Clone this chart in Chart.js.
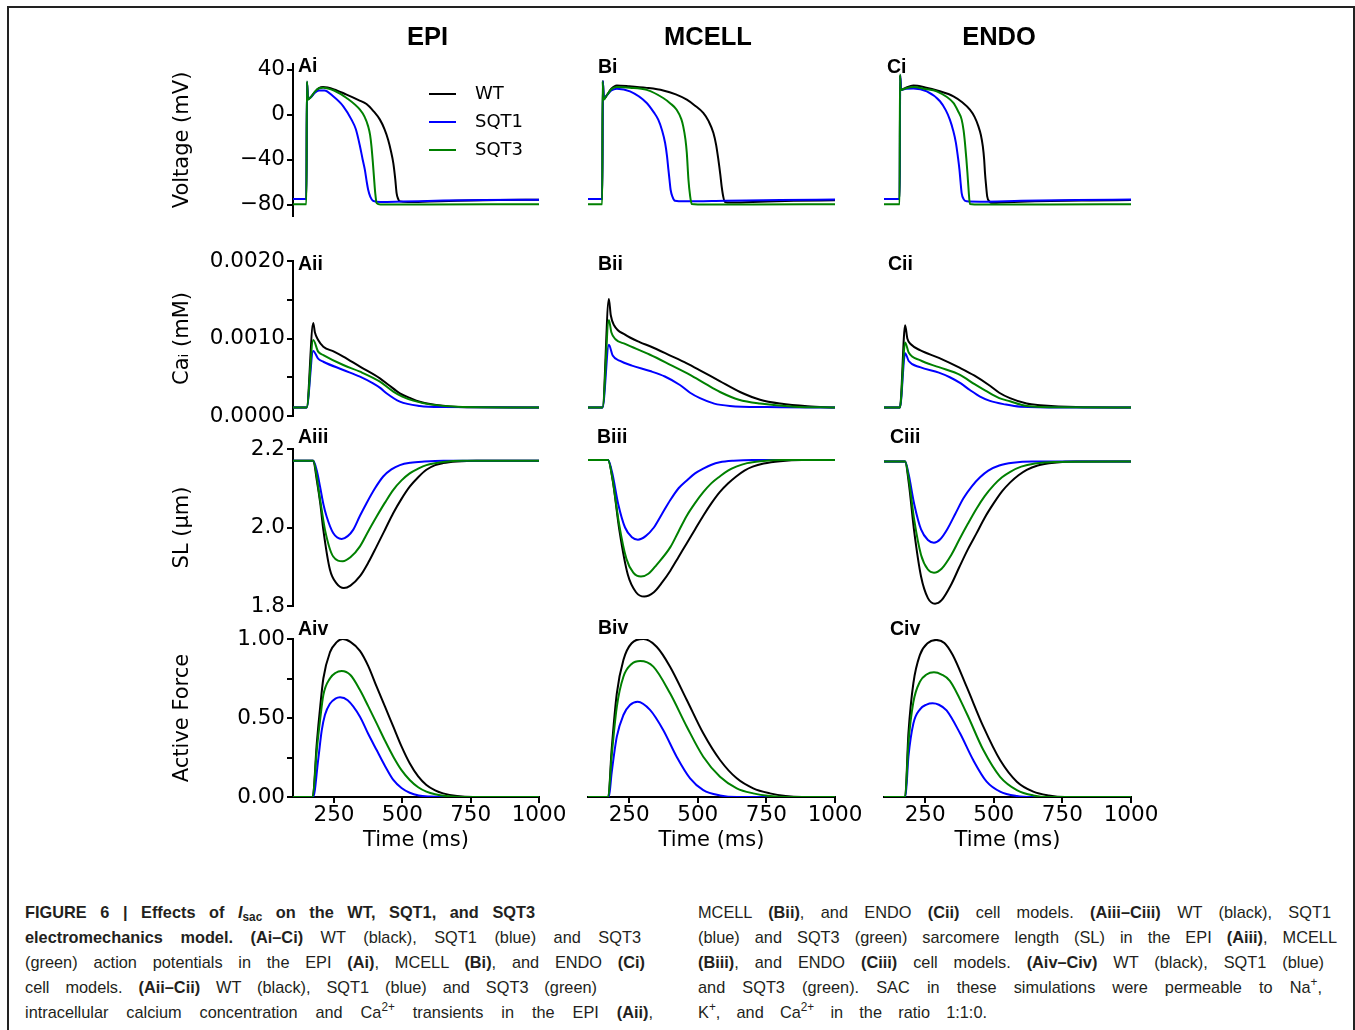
<!DOCTYPE html>
<html>
<head>
<meta charset="utf-8">
<title>Effects of Isac on WT, SQT1 and SQT3 electromechanics</title>
<script src="https://cdn.jsdelivr.net/npm/chart.js@4.4.1/dist/chart.umd.min.js"></script>
<style>
  html, body { margin: 0; padding: 0; background: #fff; }
  body { width: 1355px; height: 1030px; position: relative; overflow: hidden; }
  #frame { position: absolute; left: 7px; top: 6px; width: 1344px; height: 1100px; border: 2px solid #222; }
  #figure canvas { position: absolute; }
  .coltitle { position: absolute; width: 200px; text-align: center; font: bold 25.5px "Liberation Sans", Arial, sans-serif; line-height: 1; color: #000; white-space: nowrap; }
  .plabel { position: absolute; font: bold 19.5px "Liberation Sans", Arial, sans-serif; line-height: 1; color: #000; white-space: nowrap; }
  .cap { position: absolute; height: 25px; line-height: 25px; font-family: "Liberation Sans", Arial, sans-serif; font-size: 17px; color: #231f20; white-space: nowrap; }
  .cap > span { display: inline-block; white-space: nowrap; transform-origin: 0 50%; }
  .cap sup, .cap sub { font-size: 0.72em; line-height: 0; }
  .cap sup { vertical-align: 0.55em; }
  .cap sub { vertical-align: -0.25em; }
</style>
</head>
<body>
<div id="frame"></div>
<div id="figure"></div>

<div class="coltitle" style="left:327.5px; top:23.5px;">EPI</div>
<div class="coltitle" style="left:608px; top:23.5px;">MCELL</div>
<div class="coltitle" style="left:899px; top:23.5px;">ENDO</div>

<div class="plabel" style="left:298px; top:56px;">Ai</div>
<div class="plabel" style="left:598px; top:57px;">Bi</div>
<div class="plabel" style="left:887px; top:57px;">Ci</div>
<div class="plabel" style="left:298px; top:253.5px;">Aii</div>
<div class="plabel" style="left:598px; top:253.5px;">Bii</div>
<div class="plabel" style="left:888px; top:253.5px;">Cii</div>
<div class="plabel" style="left:298px; top:427px;">Aiii</div>
<div class="plabel" style="left:597px; top:427px;">Biii</div>
<div class="plabel" style="left:890px; top:427px;">Ciii</div>
<div class="plabel" style="left:298px; top:618.5px;">Aiv</div>
<div class="plabel" style="left:598px; top:617.5px;">Biv</div>
<div class="plabel" style="left:890px; top:618.5px;">Civ</div>

<!-- figure caption, two justified columns -->
<div class="cap" data-w="510" style="left:25px; top:900px;"><span><b>FIGURE 6 | Effects of <i>I</i><sub>sac</sub> on the WT, SQT1, and SQT3</b></span></div>
<div class="cap" data-w="616" style="left:25px; top:925px;"><span><b>electromechanics model. (Ai–Ci)</b> WT (black), SQT1 (blue) and SQT3</span></div>
<div class="cap" data-w="620" style="left:25px; top:950px;"><span>(green) action potentials in the EPI <b>(Ai)</b>, MCELL <b>(Bi)</b>, and ENDO <b>(Ci)</b></span></div>
<div class="cap" data-w="572" style="left:25px; top:975px;"><span>cell models. <b>(Aii–Cii)</b> WT (black), SQT1 (blue) and SQT3 (green)</span></div>
<div class="cap" data-w="628" style="left:25px; top:1000px;"><span>intracellular calcium concentration and Ca<sup>2+</sup> transients in the EPI <b>(Aii)</b>,</span></div>

<div class="cap" data-w="633" style="left:698px; top:900px;"><span>MCELL <b>(Bii)</b>, and ENDO <b>(Cii)</b> cell models. <b>(Aiii–Ciii)</b> WT (black), SQT1</span></div>
<div class="cap" data-w="639" style="left:698px; top:925px;"><span>(blue) and SQT3 (green) sarcomere length (SL) in the EPI <b>(Aiii)</b>, MCELL</span></div>
<div class="cap" data-w="626" style="left:698px; top:950px;"><span><b>(Biii)</b>, and ENDO <b>(Ciii)</b> cell models. <b>(Aiv–Civ)</b> WT (black), SQT1 (blue)</span></div>
<div class="cap" data-w="624" style="left:698px; top:975px;"><span>and SQT3 (green). SAC in these simulations were permeable to Na<sup>+</sup>,</span></div>
<div class="cap" data-w="289" style="left:698px; top:1000px;"><span>K<sup>+</sup>, and Ca<sup>2+</sup> in the ratio 1:1:0.</span></div>

<script>
// ---------- axes: ranges, ticks and tick labels ----------
const timeRange = [100, 1000];
const timeTicks = [250, 500, 750, 1000];
const timeTickLabels = ['250', '500', '750', '1000'];

const voltRange = [-90, 45];
const voltTicks = [-80, -40, 0, 40];
const voltTickLabels = ['\u221280', '\u221240', '0', '40'];

const caRange = [0, 0.002];
const caTicks = [0, 0.0005, 0.001, 0.0015, 0.002];
const caTickLabels = ['0.0000', '', '0.0010', '', '0.0020'];

const slRange = [1.8, 2.2];
const slTicks = [1.8, 2.0, 2.2];
const slTickLabels = ['1.8', '2.0', '2.2'];

const forceRange = [0, 1];
const forceTicks = [0, 0.25, 0.5, 0.75, 1];
const forceTickLabels = ['0.00', '', '0.50', '', '1.00'];

const seriesNames = ['WT', 'SQT1', 'SQT3'];

// ---------- membrane voltage (mV), [time ms, value] ----------
const epiV_WT = [[100,-75],[149,-75],[151,29],[155,14],[165,15.5],[180,20],[195,23.5],[210,24.5],[250,22.5],[296,17.8],[340,13],[369,9.5],[395,3],[418,-4.4],[435,-13],[448,-22.2],[458,-32],[467,-43],[474,-57],[479,-69.6],[485,-75],[491,-77],[520,-77.6],[600,-77.1],[700,-76.4],[850,-75.8],[1000,-75.5]];
const epiV_SQT1 = [[100,-75],[149,-75],[151,29],[155,14],[165,15.5],[180,19.5],[195,21.5],[215,21.5],[247,16.3],[284,7.4],[314,-4.4],[330,-13],[345,-28],[355,-40],[363,-49],[370,-60],[375,-66.7],[383,-73],[393,-76.5],[420,-77.6],[500,-77.2],[650,-76.3],[800,-75.8],[1000,-75.5]];
const epiV_SQT3 = [[100,-79.5],[149,-79.5],[151,29.6],[155,13.3],[165,15.5],[180,20.5],[195,23.5],[210,24],[250,21.5],[296,14.8],[345,4.4],[362,-2],[375,-10.4],[382,-18],[387,-28],[392,-42],[396,-54.8],[401,-70],[406,-78.5],[420,-79.8],[600,-79.7],[1000,-79.5]];

const mcV_WT = [[100,-75],[152,-75],[154,30],[158,14],[168,17],[185,23],[205,26],[250,25.3],[314,23.8],[374,21.5],[420,18],[460,13.3],[490,8],[520,1.5],[540,-6],[557,-16.3],[567,-27],[575,-40],[582,-53],[587,-63.7],[593,-73],[599,-77.5],[620,-78],[700,-77.5],[850,-76.5],[1000,-76]];
const mcV_SQT1 = [[100,-75],[152,-75],[154,30],[158,14],[168,17],[185,21.5],[205,23],[253,20.7],[314,10.4],[340,2],[356,-4.4],[370,-14],[381,-25.2],[388,-37],[393,-48.9],[397,-58],[401,-66.7],[408,-73],[417,-76.5],[450,-77],[600,-76.5],[800,-75.8],[1000,-75.3]];
const mcV_SQT3 = [[100,-79.5],[152,-79.5],[153,29.6],[157,13.3],[168,17],[185,22.5],[205,24.5],[253,24],[314,22],[374,14.8],[400,10],[423,4.4],[440,-4],[447,-10.4],[455,-22],[460,-34],[466,-57.8],[472,-72],[478,-79.4],[500,-79.8],[700,-79.7],[1000,-79.5]];

const enV_WT = [[100,-75],[157,-75],[159,35],[162,22],[180,24],[207,25.8],[250,24.2],[300,21],[353,16.3],[385,11],[413,4.4],[430,-2],[444,-10.4],[453,-18],[460,-28],[465,-40],[468,-51.8],[472,-63],[476,-72.6],[484,-77],[492,-78.3],[520,-78],[650,-77],[850,-76.2],[1000,-75.8]];
const enV_SQT1 = [[100,-75],[157,-75],[159,35],[162,22],[180,23],[207,23.3],[256,20.7],[304,11.9],[325,4],[340,-4.4],[352,-14],[362,-25],[369,-37],[375,-49],[379,-60],[383,-69.6],[390,-75],[401,-77],[450,-77.3],[600,-76.5],[800,-75.8],[1000,-75.3]];
const enV_SQT3 = [[100,-79.5],[157,-79.5],[158,35.6],[161,22],[180,23.5],[207,24.5],[250,22.8],[292,20.7],[353,10.4],[370,3],[383,-4.4],[390,-14],[395,-25],[400,-39],[404,-51.8],[408,-66],[413,-79.4],[430,-79.8],[700,-79.7],[1000,-79.5]];

// ---------- intracellular calcium (mM) ----------
const epiCa_WT = [[100,0.00011],[150,0.00011],[174,0.00120],[180,0.00108],[192,0.00098],[211,0.000895],[250,0.00083],[284,0.000766],[345,0.000637],[418,0.000486],[450,0.0004],[491,0.000293],[530,0.00023],[564,0.000185],[649,0.000133],[771,0.000112],[1000,0.00011]];
const epiCa_SQT1 = [[100,0.00011],[150,0.00011],[174,0.00084],[192,0.00074],[211,0.0007],[284,0.000594],[345,0.000508],[393,0.000421],[420,0.00036],[442,0.000293],[491,0.000185],[564,0.000129],[650,0.000115],[1000,0.00011]];
const epiCa_SQT3 = [[100,0.00011],[150,0.00011],[174,0.00098],[192,0.00083],[211,0.000787],[284,0.000658],[345,0.000572],[418,0.000443],[467,0.000314],[500,0.00025],[540,0.000198],[600,0.00015],[700,0.00012],[1000,0.00011]];

const mcCa_WT = [[100,0.00011],[153,0.00011],[176,0.00151],[183,0.0013],[195,0.00117],[235,0.00105],[290,0.00095],[326,0.0009],[400,0.00078],[460,0.00068],[508,0.00059],[580,0.00045],[654,0.00031],[727,0.00021],[800,0.00016],[900,0.000125],[1000,0.00011]];
const mcCa_SQT1 = [[100,0.00011],[153,0.00011],[176,0.00092],[190,0.00078],[217,0.00071],[260,0.00065],[326,0.00058],[380,0.00051],[435,0.0004],[472,0.0003],[508,0.00023],[560,0.00016],[617,0.00013],[750,0.000115],[1000,0.00011]];
const mcCa_SQT3 = [[100,0.00011],[153,0.00011],[176,0.00124],[185,0.00108],[200,0.00099],[235,0.00093],[326,0.00079],[400,0.00066],[472,0.00053],[530,0.00041],[581,0.00031],[650,0.00021],[727,0.00016],[850,0.00012],[1000,0.00011]];

const enCa_WT = [[100,0.00011],[158,0.00011],[177,0.00117],[185,0.001],[200,0.00092],[231,0.00085],[300,0.00075],[377,0.00062],[430,0.00052],[486,0.00039],[520,0.0003],[559,0.00023],[620,0.00016],[669,0.00014],[800,0.000115],[1000,0.00011]];
const enCa_SQT1 = [[100,0.00011],[158,0.00011],[177,0.00081],[190,0.00071],[231,0.00063],[300,0.00056],[340,0.0005],[380,0.00042],[413,0.000335],[450,0.00025],[486,0.000195],[540,0.00015],[596,0.00012],[750,0.00011],[1000,0.00011]];
const enCa_SQT3 = [[100,0.00011],[158,0.00011],[177,0.00095],[190,0.00082],[231,0.00072],[300,0.00063],[377,0.00053],[430,0.00041],[468,0.00033],[520,0.00023],[559,0.00019],[620,0.00013],[750,0.000112],[1000,0.00011]];

// ---------- sarcomere length (um) ----------
const epiSL_WT = [[100,2.17],[174,2.17],[187,2.121],[200,2.06],[211,1.994],[235,1.893],[260,1.857],[286,1.846],[310,1.852],[345,1.876],[375,1.91],[406,1.952],[437,1.995],[467,2.037],[497,2.073],[527,2.104],[558,2.128],[588,2.147],[620,2.159],[649,2.164],[700,2.168],[770,2.17],[1000,2.17]];
const epiSL_SQT1 = [[100,2.17],[174,2.17],[187,2.145],[199,2.104],[211,2.06],[223,2.028],[247,1.986],[278,1.971],[300,1.978],[320,1.994],[345,2.03],[369,2.062],[400,2.1],[430,2.13],[460,2.148],[491,2.159],[530,2.165],[580,2.168],[650,2.17],[1000,2.17]];
const epiSL_SQT3 = [[100,2.17],[174,2.17],[187,2.13],[192,2.104],[205,2.045],[217,1.994],[247,1.926],[282,1.914],[310,1.924],[345,1.952],[375,1.99],[406,2.028],[437,2.064],[467,2.096],[497,2.12],[527,2.138],[558,2.15],[588,2.159],[649,2.167],[720,2.17],[1000,2.17]];

const mcSL_WT = [[100,2.172],[173,2.172],[190,2.12],[215,1.99],[245,1.88],[275,1.835],[305,1.824],[340,1.835],[370,1.86],[400,1.89],[430,1.925],[460,1.96],[490,1.995],[520,2.03],[550,2.062],[580,2.09],[610,2.112],[640,2.13],[670,2.145],[700,2.155],[740,2.163],[800,2.169],[880,2.172],[1000,2.172]];
const mcSL_SQT1 = [[100,2.172],[173,2.172],[188,2.14],[210,2.06],[235,2.0],[260,1.975],[282,1.969],[310,1.978],[340,2.0],[370,2.035],[400,2.07],[430,2.1],[460,2.12],[490,2.138],[520,2.15],[550,2.16],[580,2.166],[630,2.17],[700,2.172],[1000,2.172]];
const mcSL_SQT3 = [[100,2.172],[173,2.172],[188,2.13],[213,2.01],[240,1.92],[265,1.885],[293,1.875],[320,1.882],[350,1.905],[400,1.95],[430,1.99],[460,2.03],[490,2.062],[520,2.09],[550,2.113],[580,2.13],[610,2.145],[640,2.155],[680,2.164],[730,2.169],[800,2.172],[1000,2.172]];

const enSL_WT = [[100,2.168],[177,2.168],[190,2.115],[210,1.99],[235,1.875],[260,1.82],[286,1.806],[310,1.815],[345,1.855],[375,1.9],[406,1.945],[437,1.985],[467,2.025],[500,2.062],[530,2.092],[560,2.115],[590,2.133],[620,2.147],[660,2.158],[720,2.165],[800,2.168],[1000,2.168]];
const enSL_SQT1 = [[100,2.168],[177,2.168],[190,2.135],[210,2.06],[235,1.995],[260,1.968],[282,1.961],[305,1.97],[330,1.995],[360,2.035],[390,2.075],[420,2.105],[450,2.128],[480,2.145],[520,2.158],[570,2.165],[640,2.168],[1000,2.168]];
const enSL_SQT3 = [[100,2.168],[177,2.168],[190,2.125],[210,2.02],[235,1.93],[260,1.893],[282,1.885],[310,1.895],[345,1.93],[375,1.97],[406,2.01],[437,2.048],[467,2.08],[500,2.108],[530,2.128],[560,2.142],[600,2.155],[650,2.163],[720,2.167],[1000,2.168]];

// ---------- normalised active force ----------
const epiF_WT = [[100,0],[172,0],[187,0.34],[200,0.58],[211,0.75],[235,0.915],[260,0.98],[282,1.0],[310,0.982],[345,0.925],[375,0.83],[406,0.698],[437,0.57],[467,0.445],[497,0.32],[527,0.213],[558,0.13],[588,0.076],[620,0.042],[649,0.023],[700,0.006],[760,0],[1000,0]];
const epiF_SQT1 = [[100,0],[174,0],[192,0.234],[205,0.42],[217,0.52],[235,0.59],[255,0.622],[272,0.631],[300,0.612],[345,0.508],[375,0.4],[406,0.297],[437,0.195],[467,0.108],[497,0.057],[527,0.027],[560,0.01],[600,0.003],[650,0],[1000,0]];
const epiF_SQT3 = [[100,0],[172,0],[187,0.297],[200,0.5],[211,0.645],[235,0.75],[255,0.785],[278,0.797],[310,0.772],[345,0.677],[375,0.575],[406,0.466],[437,0.355],[467,0.255],[497,0.17],[527,0.108],[558,0.062],[588,0.034],[620,0.017],[660,0.006],[720,0],[1000,0]];

const mcF_WT = [[100,0],[174,0],[186,0.297],[205,0.656],[229,0.867],[259,0.973],[302,1.0],[350,0.951],[399,0.825],[460,0.614],[520,0.403],[581,0.234],[642,0.118],[702,0.055],[763,0.023],[820,0.006],[880,0],[1000,0]];
const mcF_SQT1 = [[100,0],[176,0],[186,0.15],[205,0.382],[229,0.519],[253,0.582],[281,0.603],[326,0.551],[374,0.424],[423,0.255],[472,0.118],[520,0.044],[581,0.01],[642,0],[1000,0]];
const mcF_SQT3 = [[100,0],[174,0],[186,0.255],[205,0.571],[229,0.761],[259,0.842],[290,0.861],[338,0.825],[399,0.656],[460,0.445],[520,0.255],[581,0.128],[642,0.055],[702,0.023],[763,0.006],[820,0],[1000,0]];

const enF_WT = [[100,0],[177,0],[189,0.403],[207,0.72],[231,0.9],[260,0.975],[290,0.994],[320,0.975],[350,0.9],[401,0.698],[462,0.445],[523,0.234],[584,0.097],[644,0.034],[700,0.01],[760,0],[1000,0]];
const enF_SQT1 = [[100,0],[178,0],[189,0.255],[207,0.465],[231,0.555],[255,0.585],[277,0.593],[300,0.584],[328,0.548],[377,0.403],[425,0.234],[474,0.097],[523,0.034],[584,0.006],[640,0],[1000,0]];
const enF_SQT3 = [[100,0],[177,0],[189,0.34],[207,0.6],[231,0.73],[255,0.775],[282,0.789],[310,0.775],[340,0.735],[401,0.53],[462,0.297],[523,0.128],[584,0.044],[644,0.01],[700,0],[1000,0]];

// ---------- layout of the 4 x 3 panel grid (page pixels of each plot area) ----------
const COLS = [{ left: 293, width: 246 }, { left: 588, width: 247 }, { left: 884, width: 247 }];
const ROWS = [{ top: 64, height: 152 }, { top: 261, height: 155 }, { top: 449, height: 157 }, { top: 639, height: 158 }];
const Y_AXIS_W = 130, PAD_T = 20, PAD_R = 40, PAD_L = 20, PAD_B = 20, X_AXIS_H = 56, PAD_B_LAST = 6;

const LINE_COLORS = ['#000000', '#0000ff', '#008000'];
const DRAW_ORDER = [3, 2, 1];          // SQT3 drawn on top, WT underneath

const ROW_AXES = [
  { range: voltRange,  ticks: voltTicks,  labels: voltTickLabels,  title: 'Voltage (mV)' },
  { range: caRange,    ticks: caTicks,    labels: caTickLabels,    title: 'Ca\u1D62 (mM)' },
  { range: slRange,    ticks: slTicks,    labels: slTickLabels,    title: 'SL (\u03BCm)' },
  { range: forceRange, ticks: forceTicks, labels: forceTickLabels, title: 'Active Force' }
];

const PANELS = [
  [[epiV_WT, epiV_SQT1, epiV_SQT3], [mcV_WT, mcV_SQT1, mcV_SQT3], [enV_WT, enV_SQT1, enV_SQT3]],
  [[epiCa_WT, epiCa_SQT1, epiCa_SQT3], [mcCa_WT, mcCa_SQT1, mcCa_SQT3], [enCa_WT, enCa_SQT1, enCa_SQT3]],
  [[epiSL_WT, epiSL_SQT1, epiSL_SQT3], [mcSL_WT, mcSL_SQT1, mcSL_SQT3], [enSL_WT, enSL_SQT1, enSL_SQT3]],
  [[epiF_WT, epiF_SQT1, epiF_SQT3], [mcF_WT, mcF_SQT1, mcF_SQT3], [enF_WT, enF_SQT1, enF_SQT3]]
];

Chart.defaults.font.family = '"DejaVu Sans", sans-serif';
Chart.defaults.color = '#000';

// legend drawn inside the plot area of the first panel
const inlineLegend = {
  id: 'inlineLegend',
  afterDatasetsDraw(chart, args, opts) {
    if (!opts || !opts.show) return;
    const ctx = chart.ctx, a = chart.chartArea;
    ctx.save();
    ctx.font = '18px "DejaVu Sans", sans-serif';
    ctx.textBaseline = 'middle';
    ctx.textAlign = 'left';
    chart.data.datasets.forEach((ds, i) => {
      const y = a.top + opts.top + i * opts.gap;
      const x0 = a.left + opts.left;
      ctx.strokeStyle = ds.borderColor;
      ctx.lineWidth = 2;
      ctx.beginPath(); ctx.moveTo(x0, y); ctx.lineTo(x0 + opts.len, y); ctx.stroke();
      ctx.fillStyle = '#000';
      ctx.fillText(ds.label, x0 + opts.len + opts.textGap, y);
    });
    ctx.restore();
  }
};

const AXIS_LINE = { display: true, color: '#000', width: 2 };
const TICK_MARKS = { display: true, drawOnChartArea: false, drawTicks: true, tickLength: 6, tickWidth: 2, tickColor: '#000', color: '#000', lineWidth: 2 };

function makePanel(r, c) {
  const col = COLS[c], row = ROWS[r], ax = ROW_AXES[r];
  const showY = c === 0, showX = r === ROWS.length - 1;
  const leftExtra = showY ? Y_AXIS_W : PAD_L;
  const bottomExtra = showX ? X_AXIS_H + PAD_B_LAST : PAD_B;
  const w = leftExtra + col.width + PAD_R;
  const h = PAD_T + row.height + bottomExtra;

  const cv = document.createElement('canvas');
  cv.width = w; cv.height = h;
  cv.style.left = (col.left - leftExtra) + 'px';
  cv.style.top = (row.top - PAD_T) + 'px';
  cv.style.width = w + 'px';
  cv.style.height = h + 'px';
  document.getElementById('figure').appendChild(cv);

  const datasets = PANELS[r][c].map((pts, i) => ({
    label: seriesNames[i],
    data: pts.map(p => ({ x: p[0], y: p[1] })),
    borderColor: LINE_COLORS[i],
    borderWidth: 2,
    pointRadius: 0,
    fill: false,
    cubicInterpolationMode: 'monotone',
    order: DRAW_ORDER[i]
  }));

  const xScale = {
    type: 'linear',
    min: timeRange[0], max: timeRange[1],
    display: showX,
    afterBuildTicks: s => { s.ticks = timeTicks.map(v => ({ value: v })); },
    border: AXIS_LINE,
    grid: TICK_MARKS,
    ticks: { color: '#000', font: { size: 21.5 }, padding: 0, maxRotation: 0, autoSkip: false,
             callback: (v, i) => timeTickLabels[i] },
    title: { display: true, text: 'Time (ms)', color: '#000', font: { size: 21 }, padding: { top: 0, bottom: 0 } }
  };
  if (showX) xScale.afterFit = s => { s.height = X_AXIS_H; };

  const yScale = {
    type: 'linear',
    min: ax.range[0], max: ax.range[1],
    display: showY,
    afterBuildTicks: s => { s.ticks = ax.ticks.map(v => ({ value: v })); },
    border: AXIS_LINE,
    grid: TICK_MARKS,
    ticks: { color: '#000', font: { size: 21.5 }, padding: 2, autoSkip: false,
             callback: (v, i) => ax.labels[i] },
    title: { display: true, text: ax.title, color: '#000', font: { size: 21 }, padding: { top: 7, bottom: 0 } }
  };
  if (showY) yScale.afterFit = s => { s.width = Y_AXIS_W; };

  new Chart(cv, {
    type: 'line',
    data: { datasets },
    options: {
      responsive: false,
      animation: false,
      devicePixelRatio: 1,
      events: [],
      layout: { padding: { left: showY ? 0 : PAD_L, top: PAD_T, right: PAD_R, bottom: showX ? PAD_B_LAST : PAD_B } },
      plugins: {
        legend: { display: false },
        tooltip: { enabled: false },
        inlineLegend: { show: r === 0 && c === 0, left: 136, top: 30, gap: 28, len: 27, textGap: 19 }
      },
      scales: { x: xScale, y: yScale }
    },
    plugins: [inlineLegend]
  });
}

for (let r = 0; r < ROWS.length; r++) {
  for (let c = 0; c < COLS.length; c++) makePanel(r, c);
}

// caption lines: slightly condensed face, then justified to each column width
const CAPTION_CONDENSE = 0.96;
function fitCaption() {
  document.querySelectorAll('.cap').forEach(div => {
    const target = +div.dataset.w;
    const span = div.firstElementChild;
    span.style.wordSpacing = '0px';
    span.style.transform = '';
    const natural = span.getBoundingClientRect().width;
    const spaces = (span.textContent.match(/ /g) || []).length;
    const preScale = target / CAPTION_CONDENSE;
    if (natural < preScale && spaces) {
      span.style.wordSpacing = ((preScale - natural) / spaces) + 'px';
      span.style.transform = 'scaleX(' + CAPTION_CONDENSE + ')';
    } else {
      span.style.transform = 'scaleX(' + (target / natural) + ')';
    }
  });
}
fitCaption();
if (document.fonts && document.fonts.ready) document.fonts.ready.then(fitCaption);
</script>
</body>
</html>
